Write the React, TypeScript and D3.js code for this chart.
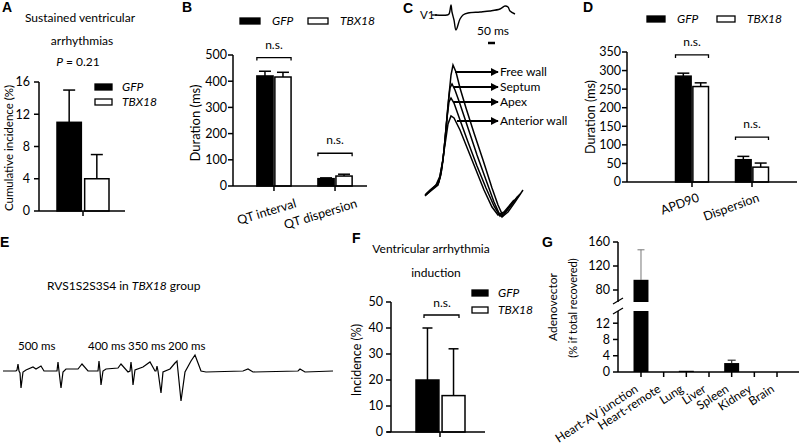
import React from "react";
import * as d3 from "d3";

const FONT = "Lato, 'Open Sans', sans-serif";
const BOLD = "'Liberation Sans', Arial, sans-serif";

// ---------- data ----------
const groups = ["GFP", "TBX18"];

const aMean = [11, 4];
const aErr = [4, 3];
const aTicks = [0, 4, 8, 12, 16];

const bCats = ["QT interval", "QT dispersion"];
const bGfp = [420, 28];
const bGfpErr = [18, 3];
const bTbx = [416, 38];
const bTbxErr = [18, 7];
const bTicks = [0, 100, 200, 300, 400, 500];
const bNsLevel = [490, 125];

const dCats = ["APD90", "Dispersion"];
const dGfp = [285, 60];
const dGfpErr = [8, 9];
const dTbx = [257, 40];
const dTbxErr = [10, 11];
const dTicks = [0, 50, 100, 150, 200, 250, 300, 350];
const dNsLevel = [342, 121];

const fMean = [20, 14];
const fErr = [20, 18];
const fTicks = [0, 10, 20, 30, 40, 50];
const fNsLevel = 45;

const gCats = ["Heart-AV junction", "Heart-remote", "Lung", "Liver", "Spleen", "Kidney", "Brain"];
const gMean = [97, 0, 0.3, 0, 2.2, 0, 0];
const gErr = [50, 0, 0, 0, 0.7, 0, 0];
const gTicksLow = [0, 4, 8, 12];
const gTicksHigh = [80, 120, 160];

// ECG V1 (t ms, mV-like units)
const v1Trace: [number, number][] = [
  [0, 0], [12, 0], [14, 1], [16, 10], [17, 3], [19, -5], [21, -15], [25, -4], [28, 0], [33, 2],
  [45, 3], [55, 4], [65, 6], [70, 9], [73, 8], [75, 4], [80, 1],
];

// AP traces (t ms, v units)
const apFree: [number, number][] = [
  [0, 22], [5, 27], [11, 32], [14, 36], [16, 48], [18, 58], [20, 78], [22, 100], [24, 123], [26, 143],
  [28, 153], [31, 146], [35, 130], [41, 110], [49, 85], [58, 58], [67, 30], [73, 13], [78, 2], [83, 6], [90, 16], [98, 28],
];
const apSeptum: [number, number][] = [
  [1, 24], [6, 28], [12, 34], [15, 40], [17, 50], [19, 68], [21, 90], [23, 113], [25, 130], [27, 134],
  [30, 128], [35, 114], [43, 90], [52, 63], [61, 38], [69, 16], [74, 5], [77, 1], [84, 10], [95, 24],
];
const apApex: [number, number][] = [
  [0, 23], [5, 28], [11, 33], [15, 42], [18, 58], [20, 78], [22, 100], [24, 116], [26, 120], [29, 115],
  [35, 98], [43, 76], [52, 52], [61, 30], [69, 12], [75, 2], [81, 7], [93, 22],
];
const apAnterior: [number, number][] = [
  [1, 23], [7, 28], [13, 33], [16, 44], [18, 60], [21, 80], [23, 94], [26, 102], [29, 100], [35, 88],
  [43, 68], [51, 48], [59, 28], [67, 11], [73, 3], [79, 6], [89, 18],
];
const apLabels = ["Free wall", "Septum", "Apex", "Anterior wall"];
const apLabelLevel = [146, 131, 116, 97];
const apArrowStart = [30, 28, 28, 32];

// E trace (t ms-like, v)
const eTrace: [number, number][] = [
  [0, 0], [13, 0], [14, 1], [15, 7], [16, 0], [17, -2], [18, -17], [20, -1], [23, 1], [30, 4], [33, 2], [38, 5], [41, 0], [53, 0],
  [54, 0], [55, 9], [56, 0], [58, -17], [60, -1], [63, 2], [75, 2], [79, 7], [85, 0], [93, 0],
  [95, 0], [96, 10], [97, 0], [98, -14], [100, 0], [103, 2], [115, 3], [118, 7], [125, -1], [127, 0],
  [128, 9], [129, 0], [130, -14], [132, 1], [140, 4], [147, 9], [152, 0], [153, 0],
  [154, 5], [155, 0], [158, -22], [160, -1], [167, 2], [172, 8],
  [174, 10], [175, 0], [178, -30], [182, -1], [188, 10], [192, 16], [195, 8], [198, 0], [203, -1],
  [240, 0], [245, 2], [250, -1], [295, 0], [297, 2], [302, -1], [330, 0],
];
const eLabels = ["500 ms", "400 ms", "350 ms", "200 ms"];
const eLabelT = [15, 85, 125, 165];

// ---------- helpers ----------
const SW = 1.5;

function YAxis({ scale, ticks, x, gap = 7, size = 12 }: any) {
  const [r0, r1] = scale.range();
  return (
    <g>
      <line x1={x} x2={x} y1={r0} y2={r1} stroke="#000" strokeWidth={SW} />
      {ticks.map((t: number) => (
        <g key={t}>
          <line x1={x - 5} x2={x} y1={scale(t)} y2={scale(t)} stroke="#000" strokeWidth={SW} />
          <text x={x - gap} y={scale(t)} dy="0.35em" textAnchor="end" fontSize={size}>{t}</text>
        </g>
      ))}
    </g>
  );
}

function ErrBar({ cx, y0, y1, cap = 6, color = "#000", sw = SW }: any) {
  return (
    <g stroke={color} strokeWidth={sw}>
      <line x1={cx} x2={cx} y1={y0} y2={y1} />
      <line x1={cx - cap} x2={cx + cap} y1={y1} y2={y1} />
    </g>
  );
}

function Bracket({ x1, x2, y }: any) {
  return (
    <path d={`M${x1},${y + 3}V${y}H${x2}V${y + 3}`} fill="none" stroke="#000" strokeWidth={1.3} />
  );
}

function Legend({ x, y, w, dy, dx, horizontal = false, size = 12 }: any) {
  return (
    <g fontSize={size} fontStyle="italic">
      {groups.map((g, i) => {
        const lx = horizontal ? x + i * dx : x;
        const ly = horizontal ? y : y + i * dy;
        return (
          <g key={g}>
            <rect x={lx} y={ly - 3} width={w} height={6} fill={i === 0 ? "#000" : "#fff"} stroke="#000" strokeWidth={1.3} />
            <text x={lx + w + (horizontal ? 12 : 10)} y={ly} dy="0.35em">{g}</text>
          </g>
        );
      })}
    </g>
  );
}

function Grouped({ cats, series, errs, y, xs, axisX, axisEnd, ticks, ns, labelDx, labelY, rot, capW = 6 }: any) {
  const sub = d3.scaleBand().domain(groups).range([0, xs.bandwidth()]).paddingInner(0.1);
  const y0 = y(0);
  return (
    <g>
      {cats.map((c: string, ci: number) => (
        <g key={c}>
          {groups.map((g, gi) => {
            const v = series[gi][ci];
            const e = errs[gi][ci];
            const bx = (xs(c) as number) + (sub(g) as number);
            const bw = sub.bandwidth();
            return (
              <g key={g}>
                <ErrBar cx={bx + bw / 2} y0={y(v)} y1={y(v + e)} cap={capW} />
                <rect x={bx} y={y(v)} width={bw} height={y0 - y(v)} fill={gi === 0 ? "#000" : "#fff"} stroke="#000" strokeWidth={SW} />
              </g>
            );
          })}
          <Bracket x1={xs(c)} x2={(xs(c) as number) + xs.bandwidth()} y={y(ns[ci])} />
          <text x={(xs(c) as number) + xs.bandwidth() / 2} y={y(ns[ci]) - 9} textAnchor="middle" fontSize={12}>n.s.</text>
          <line x1={(xs(c) as number) + xs.bandwidth() / 2} x2={(xs(c) as number) + xs.bandwidth() / 2} y1={y0} y2={y0 + 5} stroke="#000" strokeWidth={SW} />
          <text transform={`translate(${(xs(c) as number) + xs.bandwidth() / 2 + labelDx},${labelY}) rotate(${rot})`} textAnchor="end" fontSize={12.5}>{c}</text>
        </g>
      ))}
      <line x1={axisX} x2={axisEnd} y1={y0} y2={y0} stroke="#000" strokeWidth={SW} />
      <YAxis scale={y} ticks={ticks} x={axisX} gap={6} size={12.5} />
    </g>
  );
}

export default function App() {
  // Panel A
  const aY = d3.scaleLinear().domain([0, 16]).range([211, 82]);
  const aX = d3.scaleBand().domain(groups).range([57, 109]).paddingInner(0.12);

  // Panel B
  const bY = d3.scaleLinear().domain([0, 500]).range([186, 55]);
  const bX = d3.scaleBand().domain(bCats).range([230, 379]).padding(0.44);

  // Panel C
  const v1X = d3.scaleLinear().domain([0, 80]).range([435, 515]);
  const v1Y = d3.scaleLinear().domain([0, 10]).range([15, 5]);
  const apX = d3.scaleLinear().domain([0, 100]).range([425, 525]);
  const apY = d3.scaleLinear().domain([0, 156]).range([218, 62]);
  const v1Line = d3.line<[number, number]>().x((d) => v1X(d[0])).y((d) => v1Y(d[1])).curve(d3.curveCatmullRom);
  const apLine = d3.line<[number, number]>().x((d) => apX(d[0])).y((d) => apY(d[1])).curve(d3.curveLinear);

  // Panel D
  const dY = d3.scaleLinear().domain([0, 350]).range([182, 52]);
  const dX = d3.scaleBand().domain(dCats).range([648.5, 795.5]).padding(0.45);

  // Panel E
  const eX = d3.scaleLinear().domain([0, 330]).range([3, 333]);
  const eY = d3.scaleLinear().domain([-30, 20]).range([401, 351]);
  const eLine = d3.line<[number, number]>().x((d) => eX(d[0])).y((d) => eY(d[1]));

  // Panel F
  const fY = d3.scaleLinear().domain([0, 50]).range([432, 302]);
  const fX = d3.scaleBand().domain(groups).range([416, 465]).paddingInner(0.12);

  // Panel G
  const gX = d3.scaleBand().domain(gCats).range([625.8, 792.2]).padding(0.34);
  const gYLow = d3.scaleLinear().domain([0, 15]).range([372, 311]);
  const gYHigh = d3.scaleLinear().domain([60, 160]).range([302, 242]);
  const gAxisX = 618;

  return (
    <div style={{ position: "absolute", left: 0, top: 0 }}>
      <svg width={800} height={446} style={{ display: "block", fontFamily: FONT }}>
        <defs>
          <marker id="arr" viewBox="0 0 10 10" refX="9" refY="5" markerWidth="4" markerHeight="4" orient="auto">
            <path d="M0,0L10,5L0,10z" fill="#000" />
          </marker>
        </defs>
        <rect width={800} height={446} fill="#fff" />

        {/* ---------- A ---------- */}
        <text x={2} y={12} fontFamily={BOLD} fontWeight="bold" fontSize={14}>A</text>
        <text x={80} y={22} textAnchor="middle" fontSize={12}>Sustained ventricular</text>
        <text x={82} y={45} textAnchor="middle" fontSize={12}>arrhythmias</text>
        <text x={78} y={66} textAnchor="middle" fontSize={12}><tspan fontStyle="italic">P</tspan> = 0.21</text>
        <text transform="translate(13,148) rotate(-90)" textAnchor="middle" fontSize={11.5}>Cumulative incidence (%)</text>
        {groups.map((g, i) => {
          const bx = aX(g) as number;
          const bw = aX.bandwidth();
          return (
            <g key={g}>
              <ErrBar cx={bx + bw / 2} y0={aY(aMean[i])} y1={aY(aMean[i] + aErr[i])} cap={6} />
              <rect x={bx} y={aY(aMean[i])} width={bw} height={aY(0) - aY(aMean[i])} fill={i === 0 ? "#000" : "#fff"} stroke="#000" strokeWidth={SW} />
            </g>
          );
        })}
        <line x1={39} x2={125} y1={aY(0)} y2={aY(0)} stroke="#000" strokeWidth={SW} />
        <line x1={83} x2={83} y1={aY(0)} y2={aY(0) + 5} stroke="#000" strokeWidth={SW} />
        <YAxis scale={aY} ticks={aTicks} x={39} gap={9} size={12.5} />
        <Legend x={95} y={87} w={17} dy={15} />

        {/* ---------- B ---------- */}
        <text x={182} y={12} fontFamily={BOLD} fontWeight="bold" fontSize={14}>B</text>
        <Legend x={240} y={21} w={20} dx={68} horizontal />
        <text transform="translate(200,123) rotate(-90)" textAnchor="middle" fontSize={13}>Duration (ms)</text>
        <Grouped cats={bCats} series={[bGfp, bTbx]} errs={[bGfpErr, bTbxErr]} y={bY} xs={bX}
          axisX={233} axisEnd={367} ticks={bTicks} ns={bNsLevel} labelDx={23} labelY={207} rot={-17} />

        {/* ---------- C ---------- */}
        <text x={403} y={13} fontFamily={BOLD} fontWeight="bold" fontSize={14}>C</text>
        <text x={420} y={19} fontSize={11.5}>V1</text>
        <line x1={432} x2={437} y1={15} y2={15} stroke="#000" strokeWidth={1.3} />
        <path d={v1Line(v1Trace) || ""} fill="none" stroke="#000" strokeWidth={1.4} />
        <text x={493} y={35} textAnchor="middle" fontSize={12}>50 ms</text>
        <line x1={v1X(53)} x2={v1X(60)} y1={43} y2={43} stroke="#000" strokeWidth={2.5} />
        {[apFree, apSeptum, apApex, apAnterior].map((tr, i) => (
          <path key={i} d={apLine(tr) || ""} fill="none" stroke="#000" strokeWidth={1.5} />
        ))}
        {apLabels.map((l, i) => (
          <g key={l}>
            <line x1={apX(apArrowStart[i])} x2={apX(73)} y1={apY(apLabelLevel[i])} y2={apY(apLabelLevel[i])} stroke="#000" strokeWidth={2} markerEnd="url(#arr)" />
            <text x={apX(75)} y={apY(apLabelLevel[i])} dy="0.35em" fontSize={12}>{l}</text>
          </g>
        ))}

        {/* ---------- D ---------- */}
        <text x={583} y={12} fontFamily={BOLD} fontWeight="bold" fontSize={14}>D</text>
        <Legend x={647} y={19} w={18} dx={70} horizontal />
        <text transform="translate(595,117) rotate(-90)" textAnchor="middle" fontSize={12.5}>Duration (ms)</text>
        <Grouped cats={dCats} series={[dGfp, dTbx]} errs={[dGfpErr, dTbxErr]} y={dY} xs={dX}
          axisX={627} axisEnd={797} ticks={dTicks} ns={dNsLevel} labelDx={8} labelY={201} rot={-20} />

        {/* ---------- E ---------- */}
        <text x={0} y={247} fontFamily={BOLD} fontWeight="bold" fontSize={14}>E</text>
        <text x={47} y={290} fontSize={12}>RVS1S2S3S4 in <tspan fontStyle="italic">TBX18</tspan> group</text>
        {eLabels.map((l, i) => (
          <text key={l} x={eX(eLabelT[i])} y={350} fontSize={11.5}>{l}</text>
        ))}
        <path d={eLine(eTrace) || ""} fill="none" stroke="#000" strokeWidth={1.2} />

        {/* ---------- F ---------- */}
        <text x={352} y={243} fontFamily={BOLD} fontWeight="bold" fontSize={14}>F</text>
        <text x={431} y={253} textAnchor="middle" fontSize={12}>Ventricular arrhythmia</text>
        <text x={436} y={277} textAnchor="middle" fontSize={12}>induction</text>
        <text transform="translate(361,360) rotate(-90)" textAnchor="middle" fontSize={12.5}>Incidence (%)</text>
        {groups.map((g, i) => {
          const bx = fX(g) as number;
          const bw = fX.bandwidth();
          return (
            <g key={g}>
              <ErrBar cx={bx + bw / 2} y0={fY(fMean[i])} y1={fY(fMean[i] + fErr[i])} cap={5} />
              <rect x={bx} y={fY(fMean[i])} width={bw} height={fY(0) - fY(fMean[i])} fill={i === 0 ? "#000" : "#fff"} stroke="#000" strokeWidth={SW} />
            </g>
          );
        })}
        <Bracket x1={424} x2={459} y={fY(fNsLevel)} />
        <text x={442} y={fY(fNsLevel) - 8} textAnchor="middle" fontSize={12}>n.s.</text>
        <line x1={387} x2={485} y1={fY(0)} y2={fY(0)} stroke="#000" strokeWidth={SW} />
        <line x1={440} x2={440} y1={fY(0)} y2={fY(0) + 5} stroke="#000" strokeWidth={SW} />
        <YAxis scale={fY} ticks={fTicks} x={391} gap={8} size={12.5} />
        <Legend x={472} y={293} w={16} dy={17} />

        {/* ---------- G ---------- */}
        <text x={542} y={247} fontFamily={BOLD} fontWeight="bold" fontSize={14}>G</text>
        <text transform="translate(557,307) rotate(-90)" textAnchor="middle" fontSize={12}>Adenovector</text>
        <text transform="translate(577,308) rotate(-90)" textAnchor="middle" fontSize={11}>(% if total recovered)</text>
        {gCats.map((c, i) => {
          const bx = gX(c) as number;
          const bw = gX.bandwidth();
          const v = gMean[i];
          const cx = bx + bw / 2;
          return (
            <g key={c}>
              {v > 15 ? (
                <g>
                  <ErrBar cx={cx} y0={gYHigh(v)} y1={gYHigh(v + gErr[i])} cap={3.5} color="#777" sw={1} />
                  <rect x={bx} y={gYHigh(v)} width={bw} height={gYHigh(60) - gYHigh(v)} fill="#000" />
                  <rect x={bx} y={gYLow(15)} width={bw} height={gYLow(0) - gYLow(15)} fill="#000" />
                </g>
              ) : v > 0 ? (
                <g>
                  {gErr[i] > 0 && <ErrBar cx={cx} y0={gYLow(v)} y1={gYLow(v + gErr[i])} cap={4} color="#333" sw={1.2} />}
                  <rect x={bx} y={gYLow(v)} width={bw} height={Math.max(1.2, gYLow(0) - gYLow(v))} fill="#000" />
                </g>
              ) : null}
              <line x1={cx} x2={cx} y1={gYLow(0)} y2={gYLow(0) + 5} stroke="#000" strokeWidth={SW} />
              <text transform={`translate(${cx - 2},391) rotate(-33)`} textAnchor="end" fontSize={12}>{c}</text>
            </g>
          );
        })}
        <line x1={gAxisX} x2={799} y1={gYLow(0)} y2={gYLow(0)} stroke="#000" strokeWidth={SW} />
        <YAxis scale={gYLow} ticks={gTicksLow} x={gAxisX} gap={8} size={12.5} />
        <YAxis scale={gYHigh} ticks={gTicksHigh} x={gAxisX} gap={8} size={12.5} />
        <line x1={gAxisX - 5} x2={gAxisX + 5} y1={gYHigh(60) + 2} y2={gYHigh(60) - 4} stroke="#000" strokeWidth={1.2} />
        <line x1={gAxisX - 5} x2={gAxisX + 5} y1={gYLow(15) + 3} y2={gYLow(15) - 3} stroke="#000" strokeWidth={1.2} />
      </svg>
    </div>
  );
}
